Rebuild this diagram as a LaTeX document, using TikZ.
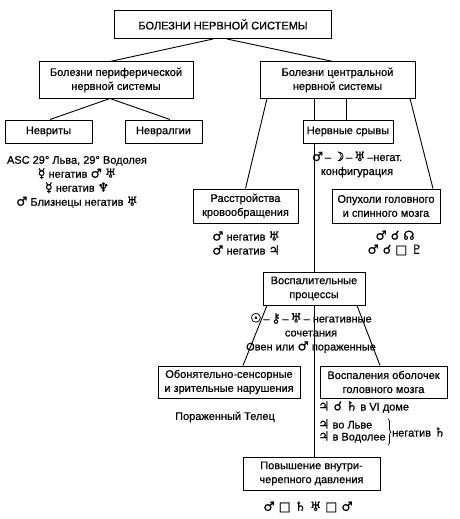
\documentclass[tikz,border=0pt]{standalone}
\usepackage{fontspec}
\setmainfont{Liberation Sans}[UprightFeatures={FakeBold=0.6}]
\newfontfamily\astrofont{DejaVu Sans}[Scale=1.15,FakeBold=0.6]
\newcommand{\astro}[1]{{\astrofont #1}}
\usetikzlibrary{decorations.pathreplacing}

\tikzset{
  blok/.style={draw, line width=1pt, align=center, inner sep=1pt},
  svyaz/.style={line width=0.9pt},
  zametka/.style={align=center, inner sep=0pt}
}

\begin{document}
\begin{tikzpicture}[x=1pt,y=-1pt,font=\fontsize{11}{14}\selectfont]
  \useasboundingbox (0,0) rectangle (460,519);

  % boxes
  \node[blok,minimum width=217pt,minimum height=28pt] (bns) at (223,24.5) {БОЛЕЗНИ НЕРВНОЙ СИСТЕМЫ};
  \node[blok,minimum width=154pt,minimum height=36pt] (per) at (116,80) {Болезни периферической\\нервной системы};
  \node[blok,minimum width=155pt,minimum height=36pt] (cen) at (337.5,80) {Болезни центральной\\нервной системы};
  \node[blok,minimum width=87pt,minimum height=23pt] (nevrit) at (48.5,131.5) {Невриты};
  \node[blok,minimum width=77pt,minimum height=23pt] (nevralg) at (163.5,131.5) {Невралгии};
  \node[blok,minimum width=90pt,minimum height=23pt] (sryv) at (348,131.5) {Нервные срывы};
  \node[blok,minimum width=105pt,minimum height=34pt] (krov) at (245.5,206) {Расстройства\\кровообращения};
  \node[blok,minimum width=108pt,minimum height=34pt] (opuh) at (386,206) {Опухоли головного\\и спинного мозга};
  \node[blok,minimum width=102pt,minimum height=33pt] (vospal) at (314,288.5) {Воспалительные\\процессы};
  \node[blok,minimum width=142pt,minimum height=32pt] (obon) at (229,382) {Обонятельно-сенсорные\\и зрительные нарушения};
  \node[blok,minimum width=127pt,minimum height=32pt] (obol) at (383.5,382) {Воспаления оболочек\\головного мозга};
  \node[blok,minimum width=137pt,minimum height=33pt] (davl) at (311.5,473.5) {Повышение внутри-\\черепного давления};

  % connectors
  \draw[svyaz] ([xshift=-10pt]bns.south) -- ([xshift=-6pt]per.north);
  \draw[svyaz] ([xshift=4pt]bns.south) -- ([xshift=-4.5pt]cen.north);
  \draw[svyaz] ([xshift=-6pt]per.south) -- ([xshift=1.5pt]nevrit.north);
  \draw[svyaz] ([xshift=-6pt]per.south) -- ([xshift=6.5pt]nevralg.north);
  \draw[svyaz] ([xshift=-70.5pt]cen.south) -- (krov.north);
  \draw[svyaz] ([xshift=-23.5pt]cen.south) -- ([xshift=-34pt]sryv.north);
  \draw[svyaz] ([xshift=8.5pt]cen.south) -- ([xshift=-2pt]sryv.north);
  \draw[svyaz] ([xshift=72.5pt]cen.south) -- ([xshift=47pt]opuh.north);
  \draw[svyaz] ([xshift=-34pt]sryv.south) -- (vospal.north);
  \draw[svyaz] ([xshift=-47pt]vospal.south) -- ([xshift=14pt]obon.north);
  \draw[svyaz] ([xshift=43pt]vospal.south) -- ([xshift=-3.5pt]obol.north);
  \draw[svyaz] (vospal.south) -- ([xshift=2.5pt]davl.north);

  % notes
  \node[zametka] (t1) at (77,182) {ASC 29° Льва, 29° Водолея\\\astro{☿} негатив \astro{♂} \astro{♅}\\\astro{☿} негатив \astro{♆}\\\astro{♂} Близнецы негатив \astro{♅}};
  \node[zametka] (t2) at (357,164.5) {\astro{♂}\,–\,\astro{☽}\,–\,\astro{♅}\,–негат.\\конфигурация};
  \node[zametka] (t3) at (246,243) {\astro{♂} негатив \astro{♅}\\\astro{♂} негатив \astro{♃}};
  \node[zametka] (t4) at (395,243) {\astro{♂ ☌ ☊}\\\astro{♂ ☌ □ ♇}};
  \node[zametka] (t5) at (311,333) {\astro{☉}\,–\,\astro{⚷}\,–\,\astro{♅}\,– негативные\\сочетания\\Овен или \astro{♂} пораженные};
  \node[zametka] (t6) at (225,417) {Пораженный Телец};
  \node[zametka,anchor=west] (t7) at (318,407) {\astro{♃ ☌ ♄} в VI доме};
  \node[zametka,anchor=west,align=left] (t8) at (318,431) {\astro{♃} во Льве\\[-2pt]\astro{♃} в Водолее};
  \draw[line width=0.7pt,decorate,decoration={brace,amplitude=3pt}] (388,419) -- (388,445);
  \node[zametka,anchor=west] (t10) at (392,432) {негатив \astro{♄}};
  \node[zametka] (t11) at (308,507) {\astro{♂ □ ♄ ♅ □ ♂}};
\end{tikzpicture}
\end{document}
